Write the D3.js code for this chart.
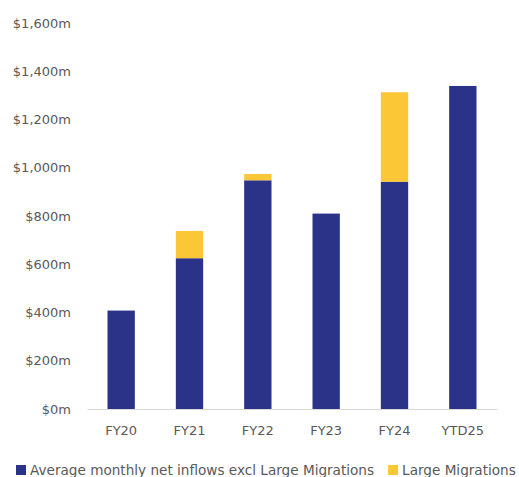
<!DOCTYPE html>
<html>
<head>
<meta charset="utf-8">
<script src="https://cdn.jsdelivr.net/npm/d3@7"></script>
<style>
  body { margin: 0; background: #fff; }
  text { font-family: "DejaVu Sans", sans-serif; fill: #595959; }
</style>
</head>
<body>
<div id="chart"></div>
<script>
// chart values ($m)
const years = ["FY20", "FY21", "FY22", "FY23", "FY24", "YTD25"];
const netInflows = [408, 625, 948, 810, 942, 1339];
const largeMigrations = [0, 113, 26, 0, 371, 0];
const yTicks = [0, 200, 400, 600, 800, 1000, 1200, 1400, 1600];
const seriesNames = ["Average monthly net inflows excl Large Migrations", "Large Migrations"];
const colors = ["#2b3388", "#fbc737"];

const width = 519, height = 477;
const margin = { top: 23, left: 87, right: 22, bottom: 68 };

const svg = d3.select("#chart").append("svg")
    .attr("width", width)
    .attr("height", height);

const x = d3.scaleBand()
    .domain(years)
    .range([margin.left, width - margin.right])
    .paddingInner(0.6)
    .paddingOuter(0.3);

const y = d3.scaleLinear()
    .domain([0, 1600])
    .range([height - margin.bottom, margin.top]);

//STACK THE TWO SERIES
const rows = years.map((yr, i) => ({ year: yr, net: netInflows[i], large: largeMigrations[i] }));
const stacked = d3.stack().keys(["net", "large"])(rows);

svg.append("g")
    .selectAll("g")
    .data(stacked)
    .join("g")
    .attr("fill", (d, i) => colors[i])
    .selectAll("rect")
    .data(d => d.filter(s => s[1] > s[0]))
    .join("rect")
    .attr("x", d => x(d.data.year))
    .attr("width", x.bandwidth())
    .attr("y", d => y(d[1]))
    .attr("height", d => y(d[0]) - y(d[1]));

//Y AXIS (labels only)
const fmt = v => "$" + d3.format(",")(v) + "m";
const yAxis = svg.append("g")
    .attr("transform", `translate(${margin.left},0)`)
    .call(d3.axisLeft(y).tickValues(yTicks).tickFormat(fmt).tickSize(0).tickPadding(16));
yAxis.select(".domain").remove();
yAxis.selectAll("text").attr("font-size", "13px").style("fill", "#595959");

//X AXIS
const xAxis = svg.append("g")
    .attr("transform", `translate(0,${y(0)})`)
    .call(d3.axisBottom(x).tickSize(0).tickPadding(17));
xAxis.select(".domain").attr("stroke", "#d9d9d9").attr("stroke-width", 1.2);
xAxis.selectAll("text").attr("font-size", "13px").style("fill", "#595959");

//LEGEND
const legend = svg.append("g").attr("transform", `translate(0, 470)`);
let lx = 16;
seriesNames.forEach((name, i) => {
    const g = legend.append("g").attr("transform", `translate(${lx},0)`);
    g.append("rect").attr("x", 0).attr("y", -5).attr("width", 10).attr("height", 10).attr("fill", colors[i]);
    const t = g.append("text").attr("x", 14).attr("y", 0).attr("dy", "0.35em")
        .attr("font-size", "13.6px").text(name);
    lx += 14 + t.node().getComputedTextLength() + 14;
});
</script>
</body>
</html>
